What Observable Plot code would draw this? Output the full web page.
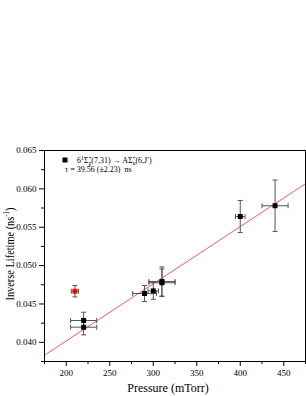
<!DOCTYPE html>
<html>
<head>
<meta charset="utf-8">
<script src="https://cdn.jsdelivr.net/npm/d3@7"></script>
<script src="https://cdn.jsdelivr.net/npm/@observablehq/plot@0.6"></script>
<style>
  html, body { margin: 0; padding: 0; background: #fff; }
  #chart svg { display: block; }
</style>
</head>
<body>
<div id="chart"></div>
<script>
// Data
const pressure    = [210, 220, 220, 290, 300, 310, 310, 400, 440];
const invLifetime = [0.04666, 0.04284, 0.04197, 0.04636, 0.04671, 0.04776, 0.04793, 0.0564, 0.0578];
const pressureErr = [4.2, 15, 15, 13.7, 6, 15, 15, 5.5, 15];
const lifetimeErr = [0.00074, 0.00108, 0.001, 0.00104, 0.0011, 0.0018, 0.0019, 0.00209, 0.00335];
const excluded    = [true, false, false, false, false, false, false, false, false];

// Linear fit: 1/tau = 1/tau0 + k*P
const fitIntercept = 1 / 39.56;
const fitSlope = 7.45e-5;
const fitRange = [175, 475];

const xTicks = [200, 250, 300, 350, 400, 450];
const xMinorTicks = [175, 225, 275, 325, 375, 425, 475];
const yTicks = [0.040, 0.045, 0.050, 0.055, 0.060, 0.065];
const yMinorTicks = [0.0375, 0.0425, 0.0475, 0.0525, 0.0575, 0.0625];

const points = pressure.map((p, i) => ({
  p, v: invLifetime[i], pe: pressureErr[i], ve: lifetimeErr[i], red: excluded[i]
}));
const fitLine = fitRange.map(p => ({p, v: fitIntercept + fitSlope * p}));

const hCap = { draw(ctx) { ctx.moveTo(-2.5, 0); ctx.lineTo(2.5, 0); } };
const vCap = { draw(ctx) { ctx.moveTo(0, -2.5); ctx.lineTo(0, 2.5); } };

const errColor = "#555";
const font = "'Liberation Serif', 'Times New Roman', serif";

const chart = Plot.plot({
  width: 306,
  height: 396,
  marginTop: 150,
  marginBottom: 35,
  marginLeft: 44,
  marginRight: 1,
  style: { fontFamily: font, fontSize: "9px", color: "#000", background: "#fff" },
  x: { domain: [175, 475], label: null },
  y: { domain: [0.0375, 0.065], label: null },
  marks: [
    Plot.frame({ stroke: "#000", strokeWidth: 1 }),
    Plot.line(fitLine, { x: "p", y: "v", stroke: "#ff5a5a", strokeWidth: 1, clip: true }),
    // vertical error bars
    Plot.link(points, { x1: "p", x2: "p", y1: d => d.v - d.ve, y2: d => d.v + d.ve, stroke: errColor, strokeWidth: 1 }),
    Plot.dot(points, { x: "p", y: d => d.v - d.ve, symbol: hCap, stroke: errColor, fill: "none", strokeWidth: 1 }),
    Plot.dot(points, { x: "p", y: d => d.v + d.ve, symbol: hCap, stroke: errColor, fill: "none", strokeWidth: 1 }),
    // horizontal error bars
    Plot.link(points, { y1: "v", y2: "v", x1: d => d.p - d.pe, x2: d => d.p + d.pe, stroke: errColor, strokeWidth: 1 }),
    Plot.dot(points, { x: d => d.p - d.pe, y: "v", symbol: vCap, stroke: errColor, fill: "none", strokeWidth: 1 }),
    Plot.dot(points, { x: d => d.p + d.pe, y: "v", symbol: vCap, stroke: errColor, fill: "none", strokeWidth: 1 }),
    // markers
    Plot.dot(points, { x: "p", y: "v", symbol: "square", r: 2.8, fill: d => d.red ? "#ff0000" : "#000", stroke: "none" }),
    // axes
    Plot.axisX({ ticks: xTicks, tickSize: 5, tickPadding: 3, tickFormat: d3.format("d"), fontSize: 9, label: null }),
    Plot.axisX({ ticks: xMinorTicks, tickSize: 3, text: null, label: null }),
    Plot.axisY({ ticks: yTicks, tickSize: 5, tickPadding: 3, tickFormat: d3.format(".3f"), fontSize: 9, label: null }),
    Plot.axisY({ ticks: yMinorTicks, tickSize: 3, text: null, label: null }),
    Plot.ruleX([175], { stroke: "#000" }),
    Plot.ruleY([0.0375], { stroke: "#000" })
  ]
});

document.getElementById("chart").appendChild(chart);

// Axis titles and legend as real SVG text
const svg = d3.select(chart);
svg.append("text")
  .attr("transform", "translate(14,254) rotate(-90)")
  .attr("text-anchor", "middle")
  .attr("font-family", font)
  .attr("font-size", 12)
  .attr("fill", "#000")
  .attr("textLength", 93)
  .attr("lengthAdjust", "spacingAndGlyphs")
  .call(t => {
    t.append("tspan").text("Inverse Lifetime (ns");
    t.append("tspan").attr("font-size", 8).attr("dy", -5).text("-1");
    t.append("tspan").attr("dy", 5).text(")");
  });

svg.append("text")
  .attr("x", 168).attr("y", 392)
  .attr("text-anchor", "middle")
  .attr("font-family", font)
  .attr("font-size", 12)
  .attr("fill", "#000")
  .text("Pressure (mTorr)");

const leg = svg.append("g")
  .attr("font-family", font).attr("font-size", 8).attr("fill", "#000")
  .attr("text-anchor", "start");
leg.append("rect").attr("x", 62.5).attr("y", 157.5).attr("width", 5).attr("height", 5).attr("fill", "#000");
leg.append("text").attr("x", 77).attr("y", 163).attr("text-anchor", "start")
  .call(t => {
    t.append("tspan").text("6");
    t.append("tspan").attr("font-size", 5.5).attr("dy", -3).text("1");
    t.append("tspan").attr("dy", 3).text("Σ");
    t.append("tspan").attr("font-size", 5.5).attr("dy", -3).text("+");
    t.append("tspan").attr("font-size", 5.5).attr("dx", -3).attr("dy", 5).text("g");
    t.append("tspan").attr("dy", -2).text("(7,31) → AΣ");
    t.append("tspan").attr("font-size", 5.5).attr("dy", -3).text("+");
    t.append("tspan").attr("font-size", 5.5).attr("dx", -3).attr("dy", 5).text("u");
    t.append("tspan").attr("dy", -2).text("(6,J′)");
  });
leg.append("text").attr("x", 65).attr("y", 172).attr("text-anchor", "start").text("τ = 39.56 (±2.23)  ns");
</script>
</body>
</html>
